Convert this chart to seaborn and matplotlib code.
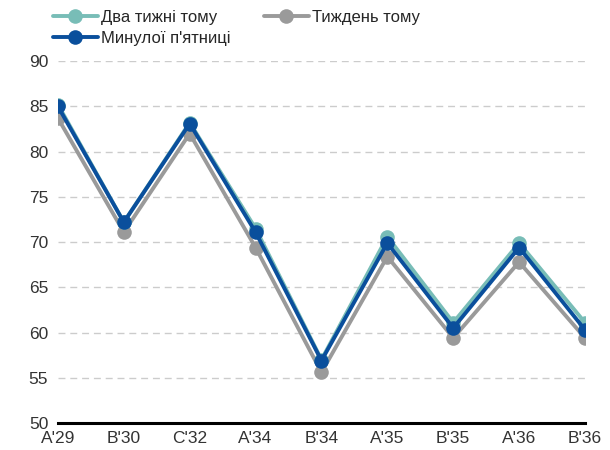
import matplotlib
matplotlib.use("Agg")
import matplotlib.pyplot as plt
import seaborn as sns
import pandas as pd
import numpy as np

categories = ["A'29", "B'30", "C'32", "A'34", "B'34", "A'35", "B'35", "A'36", "B'36"]
two_weeks_ago = [85.2, 72.2, 83.2, 71.5, 57.0, 70.6, 61.1, 69.9, 61.1]
week_ago = [83.7, 71.1, 82.0, 69.4, 55.6, 68.4, 59.4, 67.8, 59.4]
last_friday = [85.0, 72.2, 83.1, 71.1, 56.9, 69.9, 60.5, 69.4, 60.3]

labels = ["Два тижні тому", "Тиждень тому", "Минулої п'ятниці"]
colors = {"Два тижні тому": "#78bdb7", "Тиждень тому": "#9a9a9a", "Минулої п'ятниці": "#0a4f9c"}

df = pd.DataFrame({
    "x": list(range(len(categories))) * 3,
    "value": two_weeks_ago + week_ago + last_friday,
    "series": [labels[0]] * 9 + [labels[1]] * 9 + [labels[2]] * 9,
})

sns.set_style("white")
plt.rcParams['font.family'] = ['Liberation Sans', 'DejaVu Sans']

fig = plt.figure(figsize=(6.1, 4.5), dpi=100)
ax = fig.add_axes([0.095, 0.06, 0.864, 0.804])

# gray at bottom, then teal, blue on top
for name, z in [(labels[1], 2), (labels[0], 3), (labels[2], 4)]:
    sub = df[df.series == name]
    sns.lineplot(data=sub, x="x", y="value", ax=ax, color=colors[name], lw=2.8,
                 marker="o", markersize=10.5, markeredgewidth=0, label=name, zorder=z)

ax.set_xlim(0, 8)
ax.set_ylim(50, 90)
ax.set_yticks(range(50, 91, 5))
ax.set_xticks(range(len(categories)))
ax.set_xticklabels(categories)
ax.set_xlabel("")
ax.set_ylabel("")
ax.tick_params(axis="both", length=0, labelsize=12.5, colors="#333333", pad=6)
ax.tick_params(axis="y", pad=14)
for lbl in ax.get_yticklabels():
    lbl.set_horizontalalignment("center")
ax.yaxis.grid(True, color="#cccccc", linestyle=(0, (5, 3.5)), lw=1)
for s in ["left", "right", "top"]:
    ax.spines[s].set_visible(False)
ax.spines["bottom"].set_color("black")
ax.spines["bottom"].set_linewidth(2.2)
ax.spines["bottom"].set_zorder(5)

handles, lbls = ax.get_legend_handles_labels()
ax.get_legend().remove()
order = {l: h for h, l in zip(handles, lbls)}
fig.legend([order[labels[0]], order[labels[2]], order[labels[1]]],
           [labels[0], labels[2], labels[1]],
           ncol=2, loc="upper left", bbox_to_anchor=(0.062, 1.012), frameon=False,
           fontsize=12, handlelength=2.7, columnspacing=2.0, handletextpad=0.2,
           labelspacing=0.38)

fig.savefig("out.png", dpi=100)
